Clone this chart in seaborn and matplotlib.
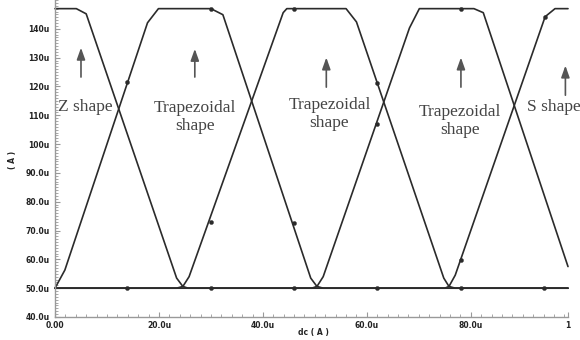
import numpy as np
import matplotlib
matplotlib.use("Agg")
import matplotlib.pyplot as plt
import seaborn as sns
from matplotlib.ticker import MultipleLocator

sns.set_style("ticks")
plt.rcParams['font.family'] = ['DejaVu Sans']

# curves (x and y in uA)
z_x = [0, 4.1, 6.0, 23.4, 24.6, 25.6, 98.7]
z_y = [147, 147, 145.2, 53.5, 50.6, 50, 50]

trap1_x = [0, 1.9, 17.8, 19.9, 30.0, 32.3, 49.2, 50.4, 51.6, 98.7]
trap1_y = [50, 56.3, 142.1, 147, 147, 144.9, 53.5, 50.6, 50, 50]

trap2_x = [0, 23.4, 24.6, 25.8, 43.9, 44.6, 56.0, 58.0, 74.8, 75.8, 77.0, 98.7]
trap2_y = [50, 50, 50.6, 54.0, 145.6, 147, 147, 142.4, 53.5, 50.6, 50, 50]

trap3_x = [0, 49.4, 50.4, 51.6, 68.2, 70.1, 80.6, 82.4, 98.7]
trap3_y = [50, 50, 50.6, 54.0, 140.3, 147, 147, 145.6, 57.5]

s_x = [0, 75.0, 75.8, 77.0, 94.3, 96.2, 98.7]
s_y = [50, 50, 50.6, 54.5, 144.2, 147, 147]

# sample dots on the curves
dot_x = [13.9, 30.0, 46.0, 62.0, 78.1, 94.1, 13.9, 30.0, 30.0, 46.0, 46.0, 62.0, 62.0, 78.1, 78.1, 94.3]
dot_y = [50, 50, 50, 50, 50, 50, 121.6, 147, 73.0, 147, 72.6, 121.2, 107.0, 147, 59.8, 144.2]

xticks = [0, 20, 40, 60, 80, 98.7]
xtick_labels = ["0.00", "20.0u", "40.0u", "60.0u", "80.0u", "1"]
yticks = [40, 50, 60, 70, 80, 90, 100, 110, 120, 130, 140]
ytick_labels = ["40.0u", "50.0u", "60.0u", "70.0u", "80.0u", "90.0u",
                "100u", "110u", "120u", "130u", "140u"]

fig = plt.figure(figsize=(5.8, 3.4), dpi=100)
ax = fig.add_axes([55 / 580, 23 / 340, 513 / 580, 317 / 340])

line_col = "#2b2b2b"
for cx, cy in [(z_x, z_y), (trap1_x, trap1_y), (trap2_x, trap2_y),
               (trap3_x, trap3_y), (s_x, s_y)]:
    sns.lineplot(x=cx, y=cy, ax=ax, color=line_col, lw=1.2, estimator=None,
                 sort=False, clip_on=False)
sns.scatterplot(x=dot_x, y=dot_y, ax=ax, color=line_col, s=9, edgecolor=None,
                zorder=5, clip_on=False)

ax.set_xlim(0, 98.7)
ax.set_ylim(40, 150)
ax.set_xticks(xticks)
ax.set_xticklabels(xtick_labels)
ax.set_yticks(yticks)
ax.set_yticklabels(ytick_labels)
ax.xaxis.set_minor_locator(MultipleLocator(2))
ax.yaxis.set_minor_locator(MultipleLocator(1))
ax.tick_params(which="both", direction="in", colors="#999999",
               labelcolor="#222222", labelsize=5.5)
ax.tick_params(which="major", length=3.5, width=0.8)
ax.tick_params(which="minor", length=2, width=0.6)
ax.tick_params(axis="y", pad=4)
ax.tick_params(axis="x", pad=3)
for lab in ax.get_xticklabels() + ax.get_yticklabels():
    lab.set_fontweight("bold")
sns.despine(ax=ax)
ax.spines["left"].set_color("#999999")
ax.spines["bottom"].set_color("#999999")
ax.spines["left"].set_linewidth(1.0)
ax.spines["bottom"].set_linewidth(1.0)

# axis titles placed as figure text so they stay inside the canvas
fig.text(313 / 580, 1 - 333 / 340, "dc ( A )", fontsize=5.5, fontweight="bold",
         color="#222222", ha="center", va="center")
fig.text(12 / 580, 1 - 160 / 340, "( A )", fontsize=5.5, fontweight="bold",
         color="#222222", ha="center", va="center", rotation=90)

# annotations
serif = dict(family="Liberation Serif", fontsize=12.5, color="#444444",
             ha="center", va="center", linespacing=1.15)
ax.text(5.8, 112.9, "Z shape", **serif)
ax.text(26.9, 109.3, "Trapezoidal\nshape", **serif)
ax.text(52.8, 110.5, "Trapezoidal\nshape", **serif)
ax.text(77.9, 108.1, "Trapezoidal\nshape", **serif)
ax.text(96.0, 112.9, "S shape", clip_on=False, **serif)

arrow_style = dict(arrowstyle="-|>,head_length=0.7,head_width=0.25",
                   color="#555555", lw=1.2)
for ax_x, tip, tail in [(5.0, 134.4, 122.3), (26.9, 134.0, 122.3),
                        (52.2, 131.0, 118.8), (78.1, 131.0, 118.8),
                        (98.2, 128.2, 116.0)]:
    ax.annotate("", xy=(ax_x, tip), xytext=(ax_x, tail),
                arrowprops=arrow_style, annotation_clip=False)

fig.savefig("out.png", dpi=100)
